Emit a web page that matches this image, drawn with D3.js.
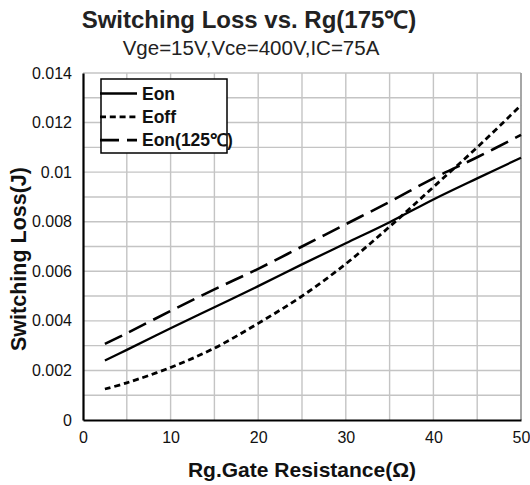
<!DOCTYPE html>
<html>
<head>
<meta charset="utf-8">
<script src="https://cdn.jsdelivr.net/npm/d3@7"></script>
<style>
  html, body { margin: 0; padding: 0; background: #fff; }
  svg { display: block; font-family: "Liberation Sans", Arial, sans-serif; }
</style>
</head>
<body>
<svg id="chart" width="530" height="485"></svg>
<script>
// Gate resistance (Ω) sample points
const rg = [2.5, 5, 10, 15, 20, 25, 30, 35, 40, 45, 50];
// Switching energy (J) per gate resistance
const eon    = [0.0024, 0.00283, 0.0037, 0.00455, 0.0054, 0.00628, 0.00713, 0.00798, 0.0089, 0.00975, 0.01058];
const eoff   = [0.00125, 0.0015, 0.00212, 0.0029, 0.0039, 0.0050, 0.0063, 0.0078, 0.0094, 0.0110, 0.0127];
const eon125 = [0.00307, 0.0035, 0.0044, 0.00527, 0.0061, 0.0070, 0.0079, 0.0088, 0.00975, 0.0106, 0.0115];

const seriesNames = ["Eon", "Eoff", "Eon(125\u2103)"];
const xTicks = [0, 10, 20, 30, 40, 50];
const yTicks = [0, 0.002, 0.004, 0.006, 0.008, 0.01, 0.012, 0.014];

const svg = d3.select("#chart");
const plot = { left: 83, right: 521, top: 73, bottom: 420 };

const x = d3.scaleLinear().domain([0, 50]).range([plot.left, plot.right]);
const y = d3.scaleLinear().domain([0, 0.014]).range([plot.bottom, plot.top]);

// Grid: every 5 Ω and every 0.001 J
const gridG = svg.append("g").attr("stroke", "#c4c4c4").attr("stroke-width", 1.4);
d3.range(5, 50.1, 5).forEach(v => {
  gridG.append("line").attr("x1", x(v)).attr("x2", x(v)).attr("y1", plot.top).attr("y2", plot.bottom);
});
d3.range(1, 14.1, 1).forEach(k => {
  const v = k * 0.001;
  gridG.append("line").attr("x1", plot.left).attr("x2", plot.right).attr("y1", y(v)).attr("y2", y(v));
});
// right frame edge slightly darker
svg.append("line").attr("x1", plot.right).attr("x2", plot.right)
  .attr("y1", plot.top).attr("y2", plot.bottom).attr("stroke", "#9a9a9a").attr("stroke-width", 1.6);

// Axes (no tick marks, just labels)
const xAxis = d3.axisBottom(x).tickValues(xTicks).tickSize(0).tickPadding(12).tickFormat(d3.format("d"));
const yAxis = d3.axisLeft(y).tickValues(yTicks).tickSize(0).tickPadding(11)
  .tickFormat(d => d === 0 ? "0" : d3.format("~g")(+d.toFixed(3)));

const gx = svg.append("g").attr("transform", `translate(0,${plot.bottom})`).call(xAxis);
const gy = svg.append("g").attr("transform", `translate(${plot.left},0)`).call(yAxis);
[gx, gy].forEach(g => {
  g.select(".domain").attr("stroke", "#000").attr("stroke-width", 2.2);
  g.selectAll("text").attr("font-size", 16).attr("fill", "#111")
    .attr("font-family", "'Liberation Sans', Arial, sans-serif");
});

// Curves
const series = [
  { name: seriesNames[0], values: eon,    dash: null,    width: 2.3 },
  { name: seriesNames[1], values: eoff,   dash: "6,3.8", width: 2.8 },
  { name: seriesNames[2], values: eon125, dash: "19,8",  width: 2.6 }
];
const line = d3.line().x(d => x(d[0])).y(d => y(d[1])).curve(d3.curveCatmullRom.alpha(0.5));
series.forEach(s => {
  svg.append("path")
    .datum(rg.map((r, i) => [r, s.values[i]]))
    .attr("d", line)
    .attr("fill", "none")
    .attr("stroke", "#000")
    .attr("stroke-width", s.width)
    .attr("stroke-dasharray", s.dash);
});

// Legend
const lg = svg.append("g");
lg.append("rect").attr("x", 101).attr("y", 79).attr("width", 126).attr("height", 74)
  .attr("fill", "#fff").attr("stroke", "#000").attr("stroke-width", 1.5);
series.forEach((s, i) => {
  const cy = 93.5 + i * 23.3;
  lg.append("line").attr("x1", 100).attr("x2", 137).attr("y1", cy).attr("y2", cy)
    .attr("stroke", "#000").attr("stroke-width", s.width).attr("stroke-dasharray", s.dash);
  lg.append("text").attr("x", 142).attr("y", cy).attr("dy", "0.36em")
    .attr("font-size", 17.5).attr("font-weight", "bold").attr("fill", "#111").text(s.name);
});

// Titles
svg.append("text").attr("x", 249).attr("y", 28).attr("text-anchor", "middle")
  .attr("font-size", 24).attr("font-weight", "bold").attr("fill", "#222")
  .text("Switching Loss vs. Rg(175\u2103)");
svg.append("text").attr("x", 251).attr("y", 55).attr("text-anchor", "middle")
  .attr("font-size", 20.5).attr("fill", "#222")
  .text("Vge=15V,Vce=400V,IC=75A");
svg.append("text").attr("x", 302).attr("y", 477).attr("text-anchor", "middle")
  .attr("font-size", 21).attr("font-weight", "bold").attr("fill", "#111")
  .text("Rg.Gate Resistance(\u03a9)");
svg.append("text").attr("transform", "translate(26,259) rotate(-90)").attr("text-anchor", "middle")
  .attr("font-size", 21.5).attr("font-weight", "bold").attr("fill", "#111")
  .text("Switching Loss(J)");
</script>
</body>
</html>
